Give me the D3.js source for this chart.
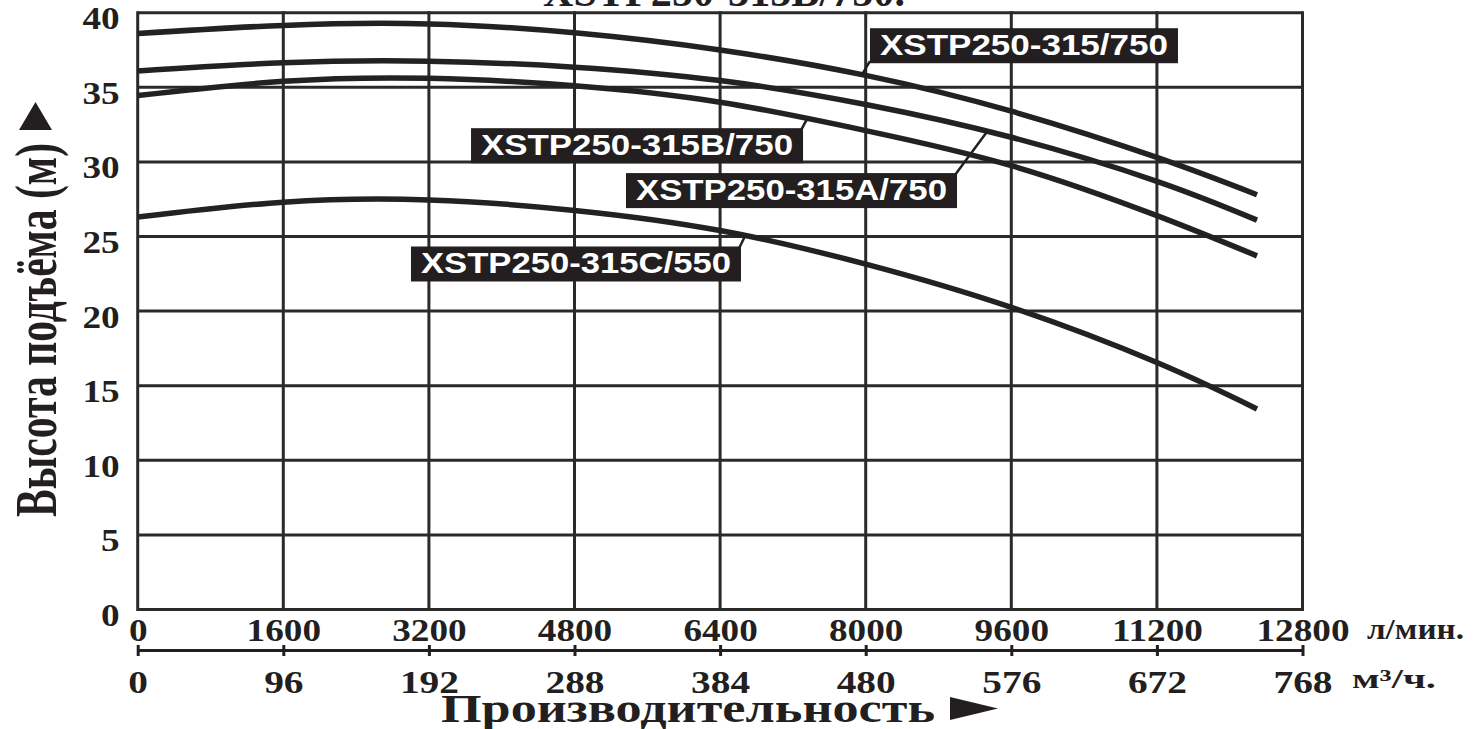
<!DOCTYPE html>
<html><head><meta charset="utf-8">
<script src="https://cdn.jsdelivr.net/npm/d3@7"></script>
<style>html,body{margin:0;padding:0;background:#fff;overflow:hidden} svg{display:block}</style>
</head><body><svg id="chart" width="1479" height="729"></svg>
<script>
// ---------- data ----------
const flows      = [0, 1600, 3200, 4800, 6400, 8000, 9600, 11200, 12300]; // л/мин
const head_315   = [38.6, 39.15, 39.25, 38.65, 37.5, 35.8, 33.4, 30.3, 27.8];
const head_315A  = [36.1, 36.65, 36.75, 36.35, 35.45, 33.85, 31.65, 28.7, 26.1];
const head_315B  = [34.45, 35.4, 35.6, 35.1, 34.0, 32.1, 29.75, 26.4, 23.7];
const head_315C  = [26.3, 27.3, 27.45, 26.75, 25.4, 23.15, 20.25, 16.55, 13.44];
const seriesNames = ["XSTP250-315/750", "XSTP250-315A/750", "XSTP250-315B/750", "XSTP250-315C/550"];
const xTicksLmin = [0, 1600, 3200, 4800, 6400, 8000, 9600, 11200, 12800];
const xTicksM3h  = [0, 96, 192, 288, 384, 480, 576, 672, 768];
const yTicks     = [0, 5, 10, 15, 20, 25, 30, 35, 40];
const titleText  = "XSTP250-315B/750.";
const yTitle     = "Высота подъёма (м)";
const xTitle     = "Производительность";
const unitLmin   = "л/мин.";
const unitM3h    = "м³/ч.";

// label boxes: top-left in data units, callout target flow
const labelFlow   = [8047, 5366, 3663, 3003];
const labelHead   = [38.96, 29.25, 32.26, 24.33];
const labelWidth  = [308, 331, 332, 330];
const calloutFlow = [7959, 9333, 7355, 6673];
const calloutCorner = ["bl", "tr", "tr", "tr"];

// ---------- layout ----------
const INK = "#231f20";
const L = 137.7, R = 1302.5, T = 12.7, B = 609.5;
const svg = d3.select("#chart");
const x  = d3.scaleLinear().domain([0, 12800]).range([L, R]);
const x2 = d3.scaleLinear().domain([0, 768]).range([L, R]);
const y  = d3.scaleLinear().domain([0, 40]).range([B, T]);
const serif = "'Liberation Serif','Times New Roman',serif";
const sans  = "'Liberation Sans',Arial,sans-serif";
const fmt = d3.format("d");

// title (cut off at top)
svg.append("text").attr("x", 543).attr("y", 6)
  .attr("font-family", serif).attr("font-weight", "bold").attr("font-size", 42)
  .attr("textLength", 362).attr("lengthAdjust", "spacingAndGlyphs")
  .attr("fill", INK).text(titleText);

// grid
const grid = svg.append("g").attr("stroke", "#2a2a2a").attr("stroke-width", 3);
grid.selectAll(".v").data(xTicksLmin).join("line")
  .attr("x1", d => x(d)).attr("x2", d => x(d)).attr("y1", y(40) - 1.5).attr("y2", y(0) + 1.5);
grid.selectAll(".h").data(yTicks).join("line")
  .attr("x1", x(0)).attr("x2", x(12800)).attr("y1", d => y(d)).attr("y2", d => y(d));

// y axis labels
const yAx = svg.append("g").attr("transform", `translate(${L},0)`)
  .call(d3.axisLeft(y).tickValues(yTicks).tickFormat(fmt).tickSize(0).tickPadding(15));
yAx.select(".domain").remove();
yAx.selectAll("text").attr("font-family", serif).attr("font-weight", "bold").attr("font-size", 31)
  .attr("fill", INK).attr("y", 6).attr("transform", "scale(1.2,1)");

// x axis (л/мин)
const xAx = svg.append("g").attr("transform", `translate(0,${B})`)
  .call(d3.axisBottom(x).tickValues(xTicksLmin).tickFormat(fmt).tickSize(0).tickPadding(9.5));
xAx.select(".domain").remove();
xAx.selectAll("text").attr("font-family", serif).attr("font-weight", "bold").attr("font-size", 31)
  .attr("fill", INK).attr("transform", "scale(1.2,1)");

// second x axis (m3/h)
const xAx2 = svg.append("g").attr("transform", `translate(0,650)`)
  .call(d3.axisBottom(x2).tickValues(xTicksM3h).tickFormat(fmt).tickSizeInner(6).tickSizeOuter(0).tickPadding(15));
xAx2.select(".domain").attr("stroke", INK).attr("stroke-width", 3);
xAx2.selectAll(".tick line").attr("stroke", INK).attr("stroke-width", 3).attr("y1", -5).attr("y2", 6);
xAx2.selectAll("text").attr("font-family", serif).attr("font-weight", "bold").attr("font-size", 31)
  .attr("fill", INK).attr("transform", "scale(1.27,1)");

// units
svg.append("text").attr("x", 1367).attr("y", 639).attr("font-family", serif).attr("font-weight", "bold")
  .attr("font-size", 30).attr("fill", INK).attr("textLength", 97).attr("lengthAdjust", "spacingAndGlyphs").text(unitLmin);
svg.append("text").attr("x", 1352).attr("y", 688).attr("font-family", serif).attr("font-weight", "bold")
  .attr("font-size", 27).attr("fill", INK).attr("textLength", 84).attr("lengthAdjust", "spacingAndGlyphs").text(unitM3h);

// x title + arrow
svg.append("text").attr("x", 441).attr("y", 722).attr("font-family", serif).attr("font-weight", "bold")
  .attr("font-size", 40).attr("fill", INK).attr("textLength", 494).attr("lengthAdjust", "spacingAndGlyphs").text(xTitle);
svg.append("path").attr("d", "M950,697 L998,708.5 L950,720 Z").attr("fill", INK);

// y title + arrow
svg.append("text").attr("transform", "translate(56,330) scale(1.5,1) rotate(-90)")
  .attr("text-anchor", "middle").attr("font-family", serif).attr("font-weight", "bold")
  .attr("font-size", 40).attr("fill", INK).attr("textLength", 374).attr("lengthAdjust", "spacingAndGlyphs").text(yTitle);
svg.append("path").attr("d", "M19,130 L35.5,102 L52,130 Z").attr("fill", INK);

// curves
const allHeads = [head_315, head_315A, head_315B, head_315C];
const line = d3.line().x(d => x(d[0])).y(d => y(d[1])).curve(d3.curveNatural);
svg.append("g").selectAll("path").data(allHeads).join("path")
  .attr("d", h => line(flows.map((f, i) => [f, h[i]])))
  .attr("fill", "none").attr("stroke", "#222").attr("stroke-width", 5.5);

// labels
const lg = svg.append("g");
seriesNames.forEach((name, i) => {
  const bx = x(labelFlow[i]), by = y(labelHead[i]), bw = labelWidth[i], bh = 35;
  const interp = d3.scaleLinear().domain(flows).range(allHeads[i]);
  const tx = x(calloutFlow[i]), ty = y(interp(calloutFlow[i]));
  const cx = calloutCorner[i] === "bl" ? bx : bx + bw - 2;
  const cy = calloutCorner[i] === "bl" ? by + bh - 2 : by + 2;
  lg.append("line").attr("x1", cx).attr("y1", cy).attr("x2", tx).attr("y2", ty)
    .attr("stroke", INK).attr("stroke-width", 2.5);
  lg.append("rect").attr("x", bx).attr("y", by).attr("width", bw).attr("height", bh).attr("fill", INK);
  lg.append("text").attr("x", bx + bw / 2).attr("y", by + 27).attr("text-anchor", "middle")
    .attr("font-family", sans).attr("font-weight", "bold").attr("font-size", 30).attr("fill", "#fff")
    .attr("textLength", bw - 20).attr("lengthAdjust", "spacingAndGlyphs").text(name);
});
</script></body></html>
